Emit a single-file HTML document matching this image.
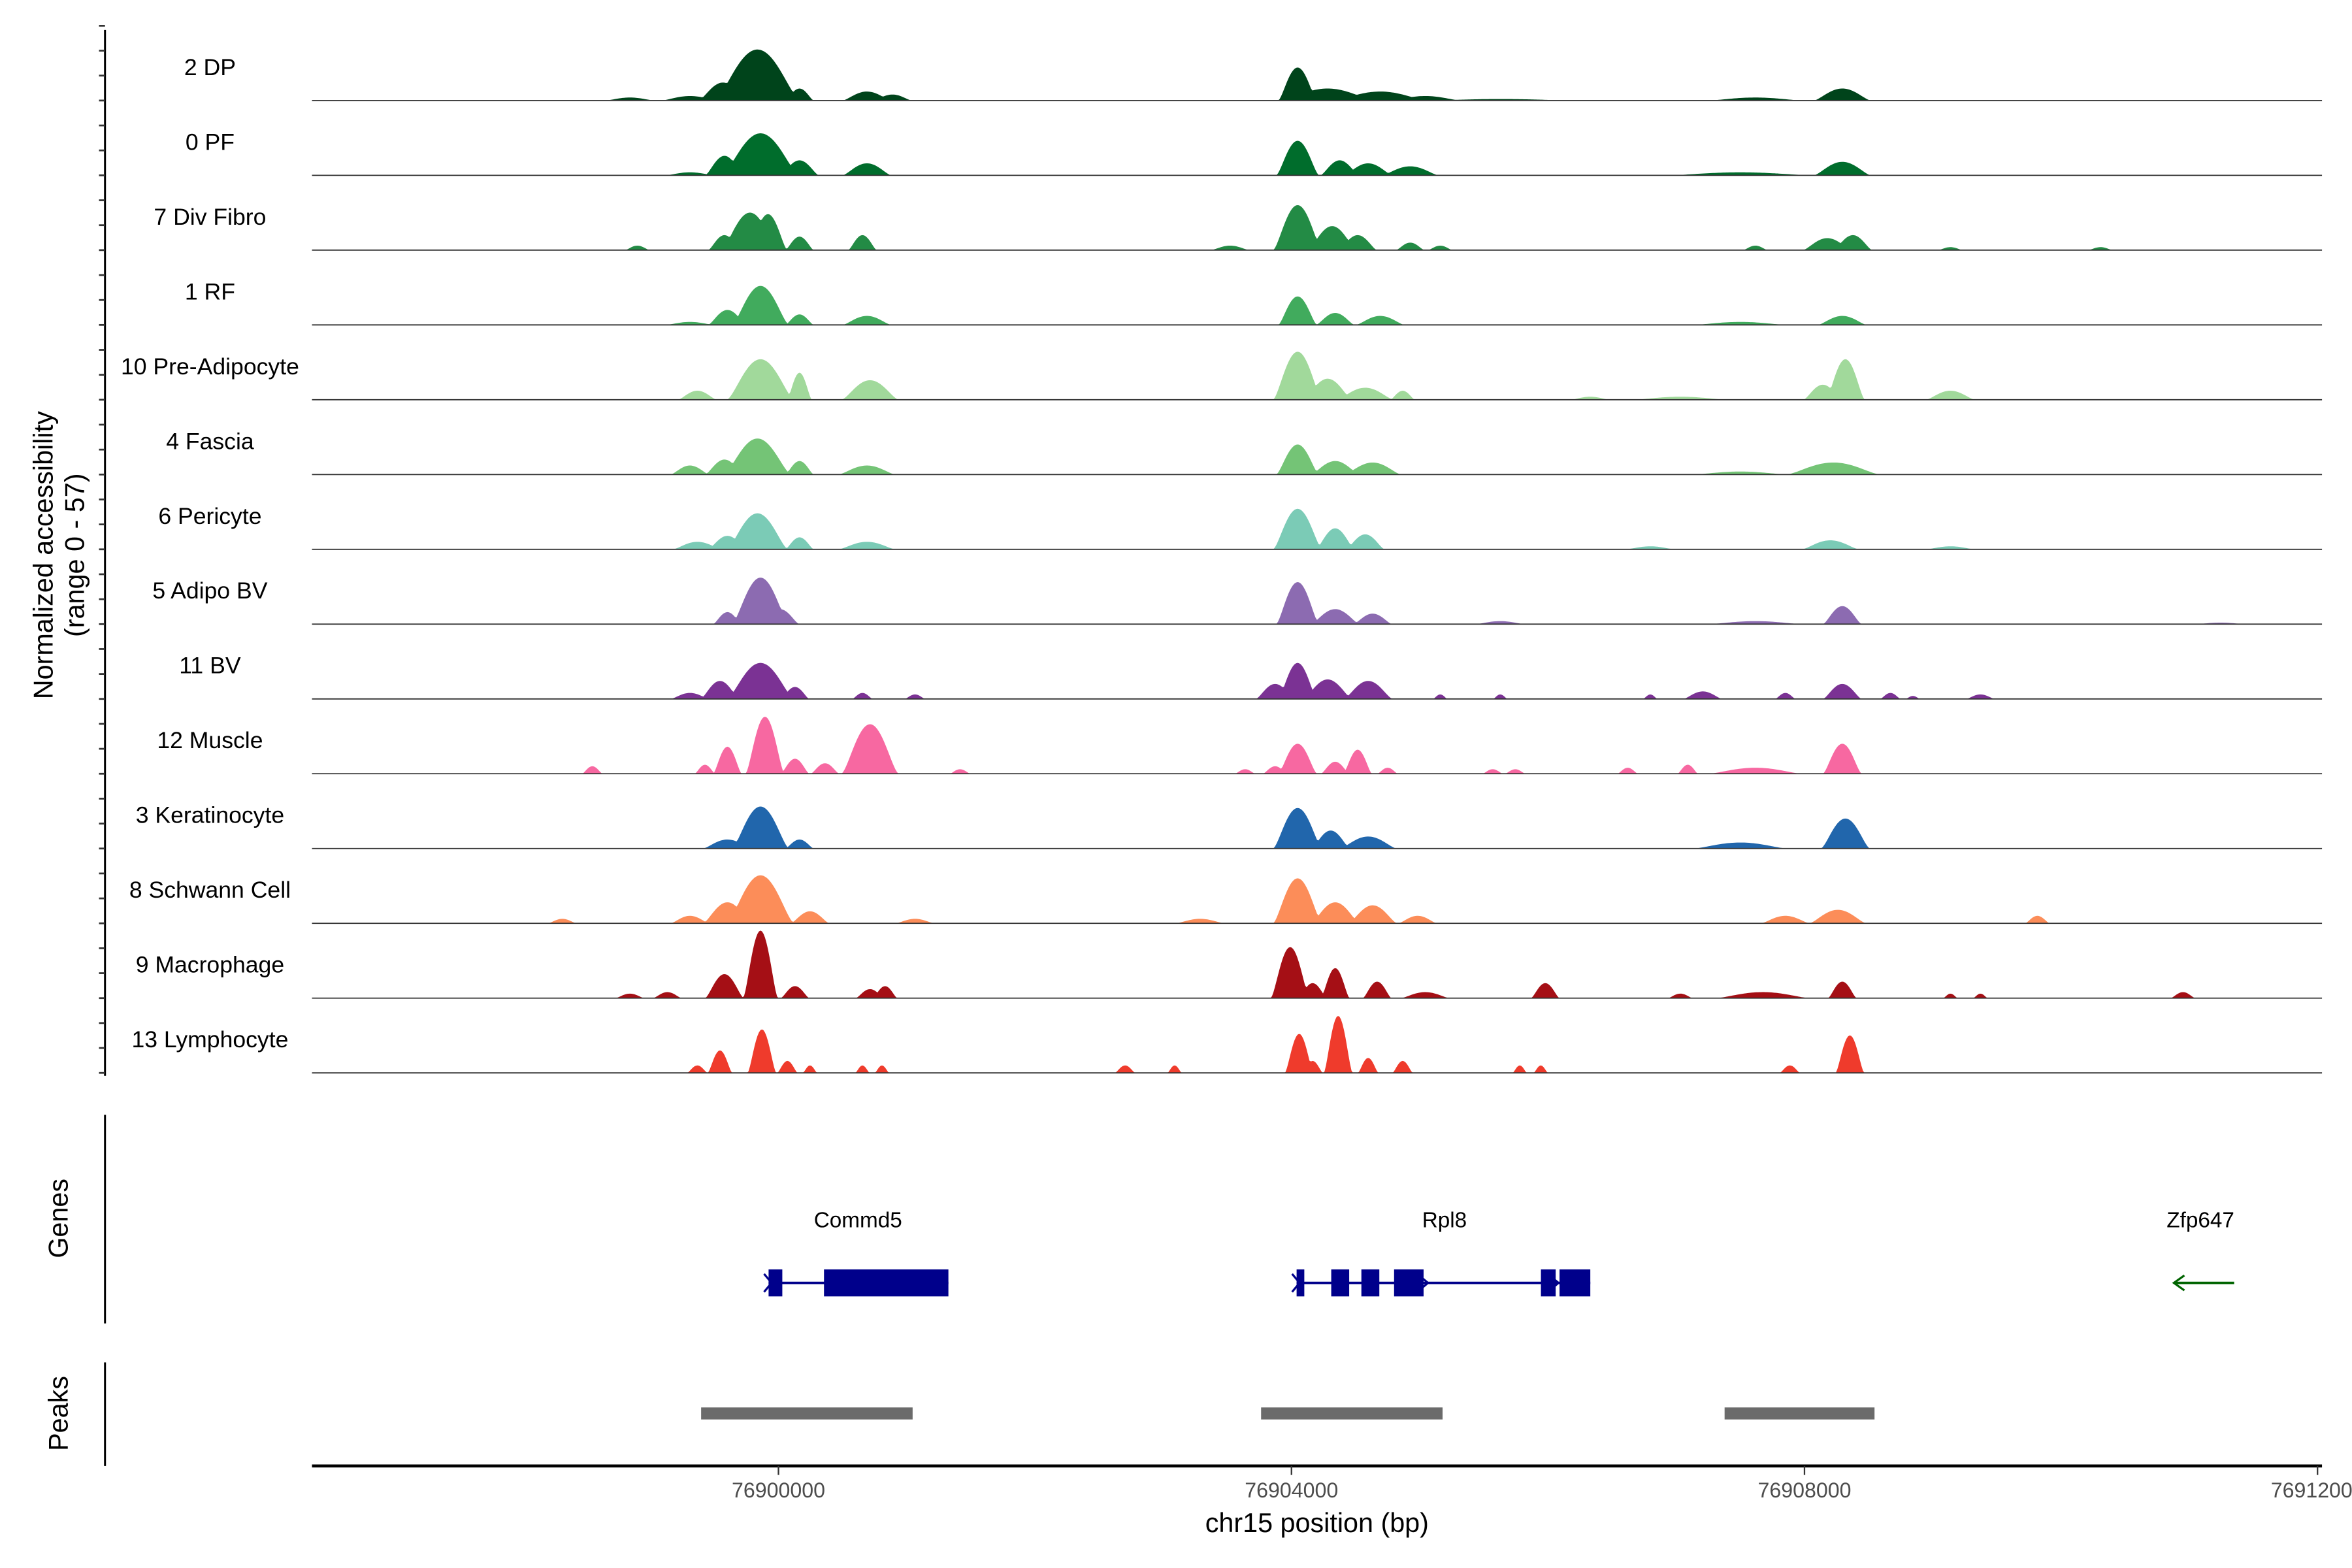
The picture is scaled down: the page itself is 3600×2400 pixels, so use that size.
<!DOCTYPE html>
<html><head><meta charset="utf-8"><style>
html,body{margin:0;padding:0;background:#fff;}
svg{display:block;}
text{font-family:"Liberation Sans",Arial,sans-serif;}
</style></head><body>
<svg id="chart" xmlns="http://www.w3.org/2000/svg" width="3600" height="2400" viewBox="0 0 1568 1045" preserveAspectRatio="none">
<rect x="0" y="0" width="1568" height="1045" fill="#fff"/>
<g id="tracks"></g>
<line x1="70" y1="20" x2="70" y2="717" stroke="#000" stroke-width="1.3"/>
<g id="yticks"></g>
<text transform="translate(35,370) rotate(-90)" text-anchor="middle" font-size="18"><tspan x="0" dy="0">Normalized accessibility</tspan><tspan x="0" dy="21">(range 0 - 57)</tspan></text>

<line x1="70" y1="743" x2="70" y2="882" stroke="#000" stroke-width="1.3"/>
<text transform="translate(45,812) rotate(-90)" text-anchor="middle" font-size="18">Genes</text>
<g id="genes"></g>

<line x1="70" y1="908" x2="70" y2="977" stroke="#000" stroke-width="1.3"/>
<text transform="translate(45,942) rotate(-90)" text-anchor="middle" font-size="18">Peaks</text>
<g id="peaks"></g>

<line x1="208" y1="977" x2="1548" y2="977" stroke="#000" stroke-width="2"/>
<g id="xticks"></g>
<text x="878" y="1021" text-anchor="middle" font-size="18">chr15 position (bp)</text>
</svg>
<script>
const regionStart = 76896363;
const regionEnd = 76912035;
const anchor = 76900000;
const xTicks = [76900000, 76904000, 76908000, 76912000];
const yMax = 47;
const trackNames = ["2 DP","0 PF","7 Div Fibro","1 RF","10 Pre-Adipocyte","4 Fascia","6 Pericyte","5 Adipo BV","11 BV","12 Muscle","3 Keratinocyte","8 Schwann Cell","9 Macrophage","13 Lymphocyte"];
const trackColors = ["#00441b","#006d2c","#238b45","#41ab5d","#a1d99b","#74c476","#7bcbb6","#8c6bb1","#7b3294","#f768a1","#2166ac","#fc8d59","#a50f15","#ef3b2c"];
// peak centers relative to anchor (bp), heights (normalized), half-widths (bp)
const dpPos=[-164,-433,164,690,889,-690,-1158,4048,4282,4692,5043,8295,7617,5628];
const dpVal=[34,12,8,6,4,3,2,22,8,6,3,8,2,1];
const dpW=[210,120,70,120,95,140,120,95,230,230,175,140,230,350];
const pfPos=[-140,-421,164,690,-690,4048,4376,4598,4926,8295,7500];
const pfVal=[28,13,10,8,2,23,10,8,6,9,2];
const pfW=[190,95,95,120,120,105,95,120,140,140,350];
const dfPos=[-222,-82,-421,164,655,-1100,4048,4317,4516,4926,8178,8377,3522,5160,7617,9138,10308];
const dfVal=[25,24,10,9,10,3,30,16,10,5,8,10,3,3,3,2,2];
const dfW=[140,95,80,70,70,60,120,120,95,70,120,95,95,60,60,60,60];
const rfPos=[-140,-398,164,690,4048,4341,4692,8295,7500,-690];
const rfVal=[26,10,7,6,19,8,6,6,2,2];
const rfW=[140,95,70,120,95,95,120,120,230,120];
const paPos=[-140,164,714,-632,4048,4282,4575,4867,8319,8143,9138,6330,7032];
const paVal=[27,18,13,6,32,14,8,6,27,10,6,2,2];
const paW=[165,60,140,95,120,120,140,60,95,95,120,95,230];
const faPos=[-164,-421,164,690,-690,4048,4341,4633,8225,7500];
const faVal=[24,10,9,6,6,20,9,8,8,2];
const faW=[165,95,70,140,95,105,120,140,230,230];
const pePos=[-164,-398,164,690,-632,4048,4341,4575,8202,6798,9138];
const peVal=[24,9,8,5,5,27,14,10,6,2,2];
const peW=[150,95,70,140,120,120,95,95,140,120,120];
const abPos=[-140,-398,12,4048,4341,4633,8295,7617,5628,11244];
const abVal=[31,8,10,28,10,7,12,2,2,1];
const abW=[140,70,95,105,120,95,95,230,120,120];
const bvPos=[-140,-456,129,-690,655,1065,4048,3873,4282,4598,8295,7207,7851,8670,9372,5160,5628,6798,8845];
const bvVal=[24,12,8,4,4,3,24,10,13,12,10,5,4,4,3,3,3,3,2];
const bvW=[165,95,70,95,50,50,95,95,120,120,95,95,50,50,70,35,35,35,35];
const muPos=[-105,-398,714,129,363,-1451,-573,1416,4048,4516,4341,3639,3873,4750,8295,7617,7090,6622,5569,5745];
const muVal=[38,18,33,10,7,5,6,3,20,16,8,3,5,4,20,4,6,4,3,3];
const muW=[95,70,140,70,70,50,50,50,95,70,70,50,60,50,95,230,50,50,50,50];
const kePos=[-140,-398,164,4048,4306,4598,8319,7500];
const keVal=[28,6,6,27,12,8,20,4];
const keW=[140,120,70,120,95,140,120,230];
const scPos=[-140,-398,246,-1685,-690,1065,4048,4341,4633,4984,8260,7851,9816,3288];
const scVal=[32,14,8,3,5,3,30,14,12,5,9,5,5,3];
const scW=[165,120,95,70,95,95,120,120,120,95,140,120,60,120];
const maPos=[-140,-421,129,714,831,3990,4341,4165,4668,5979,8295,7675,10951,-1158,-866,5043,7032,9138,9372];
const maVal=[45,16,8,6,8,34,20,10,11,10,11,4,4,3,4,4,3,3,3];
const maW=[85,95,70,70,60,95,70,70,70,70,70,230,60,70,70,120,60,35,35];
const lyPos=[-129,-456,4060,4364,4598,4867,8354,7886,-632,70,246,655,807,2703,3089,4165,5780,5944];
const lyVal=[29,15,26,38,10,8,25,5,5,8,5,5,5,5,5,8,5,5];
const lyW=[70,60,70,70,50,50,70,50,50,50,35,35,35,50,35,50,35,35];
const trackPos=[dpPos,pfPos,dfPos,rfPos,paPos,faPos,pePos,abPos,bvPos,muPos,kePos,scPos,maPos,lyPos];
const trackVal=[dpVal,pfVal,dfVal,rfVal,paVal,faVal,peVal,abVal,bvVal,muVal,keVal,scVal,maVal,lyVal];
const trackW=[dpW,pfW,dfW,rfW,paW,faW,peW,abW,bvW,muW,keW,scW,maW,lyW];
// genes
const geneNames=["Commd5","Rpl8","Zfp647"];
const geneStart=[76899923,76904040,76910880];
const geneEnd=[76901325,76906330,76911350];
const geneStrand=[1,1,-1];
const exonStart=[76899923,76900355,76904040,76904310,76904545,76904800,76905945,76906090];
const exonEnd=[76900030,76901325,76904100,76904450,76904685,76905030,76906060,76906330];
const peakStart=[76899397,76903763,76907377];
const peakEnd=[76901046,76905178,76908546];

const X0=208, X1=1548;
function xs(bp){return X0+(bp-regionStart)/(regionEnd-regionStart)*(X1-X0);}
function baseY(i){return 67+i*49.85;}
function ys(v,i){return baseY(i)-Math.min(v,yMax*1.05)/yMax*47;}
const NS="http://www.w3.org/2000/svg";
function mk(tag,attrs,parent){const e=document.createElementNS(NS,tag);for(const k in attrs)e.setAttribute(k,attrs[k]);parent.appendChild(e);return e;}

const tg=document.getElementById('tracks');
trackNames.forEach((name,i)=>{
  const g=mk('g',{},tg);
  
  
  const lab=mk('text',{x:140,y:baseY(i)-17,'text-anchor':'middle','font-size':15.5,fill:'#000'},g);
  lab.textContent=name;
  
  
  const P=trackPos[i],V=trackVal[i],W=trackW[i];
  let d='M'+X0+','+baseY(i);
  for(let px=X0;px<=X1;px+=1){
    const bp=regionStart+(px-X0)/(X1-X0)*(regionEnd-regionStart);
    let v=0,m=0;
    for(let k=0;k<P.length;k++){
      const dd=Math.abs(bp-(anchor+P[k]))/(W[k]*1.6);
      if(dd<1){const s=V[k]*Math.pow(1-dd*dd,1.6);v+=s*0.35;if(s>m)m=s;}
    }
    v=Math.max(m,Math.min(v,m*1.15));
    d+=' L'+px+','+ys(v,i).toFixed(2);
  }
  d+=' L'+X1+','+baseY(i)+' Z';
  const a=mk('path',{d:d,fill:trackColors[i],stroke:'none'},g);
  
  
  const bl=mk('line',{x1:X0,x2:X1,y1:baseY(i),y2:baseY(i),stroke:'#333','stroke-width':0.8},g);
  
  
});
const yt=document.getElementById('yticks');
for(let y=baseY(0)-49.85;y<=717;y+=49.85/3){
  const t=mk('line',{x1:66,x2:70,y1:y,y2:y,stroke:'#333','stroke-width':1.2},yt);
  
  
}
const gg=document.getElementById('genes');
geneNames.forEach((n,i)=>{
  const col=n==="Zfp647"?"#006400":"#00008b";
  const t=mk('text',{x:n==="Zfp647"?1467:(n==="Commd5"?572:963),y:818,'text-anchor':'middle','font-size':14.5},gg);
  t.textContent=n;
  
  
  const l=mk('line',{x1:xs(geneStart[i]),x2:xs(geneEnd[i]),y1:855,y2:855,stroke:col,'stroke-width':1.6},gg);
  
  
  const ax=xs(geneStart[i]);
  const ar=mk('path',{d:geneStrand[i]>0?`M${ax-3},849 L${ax+2},855 L${ax-3},861`:`M${ax+7},850 L${ax},855 L${ax+7},860`,fill:'none',stroke:col,'stroke-width':1.4},gg);
  
  
});
exonStart.forEach((s,k)=>{
  const r=mk('rect',{x:xs(s),y:846,width:xs(exonEnd[k])-xs(s),height:18,fill:'#00008b'},gg);
  
  
});
const ar2=mk('path',{d:'M946,850 L952,855 L946,860 M1033,850 L1039,855 L1033,860',fill:'none',stroke:'#00008b','stroke-width':1.4},gg);


const pg=document.getElementById('peaks');
peakStart.forEach((s,k)=>{
  const r=mk('rect',{x:xs(s),y:938,width:xs(peakEnd[k])-xs(s),height:8,fill:'#6b6b6b'},pg);
  
  
});
const xt=document.getElementById('xticks');
xTicks.forEach(v=>{
  const x=xs(v);
  const l=mk('line',{x1:x,x2:x,y1:977,y2:983,stroke:'#333','stroke-width':1},xt);
  
  
  const t=mk('text',{x:x,y:998,'text-anchor':'middle','font-size':14,fill:'#4d4d4d'},xt);
  t.textContent=v;
  
  
});
</script>
</body></html>
